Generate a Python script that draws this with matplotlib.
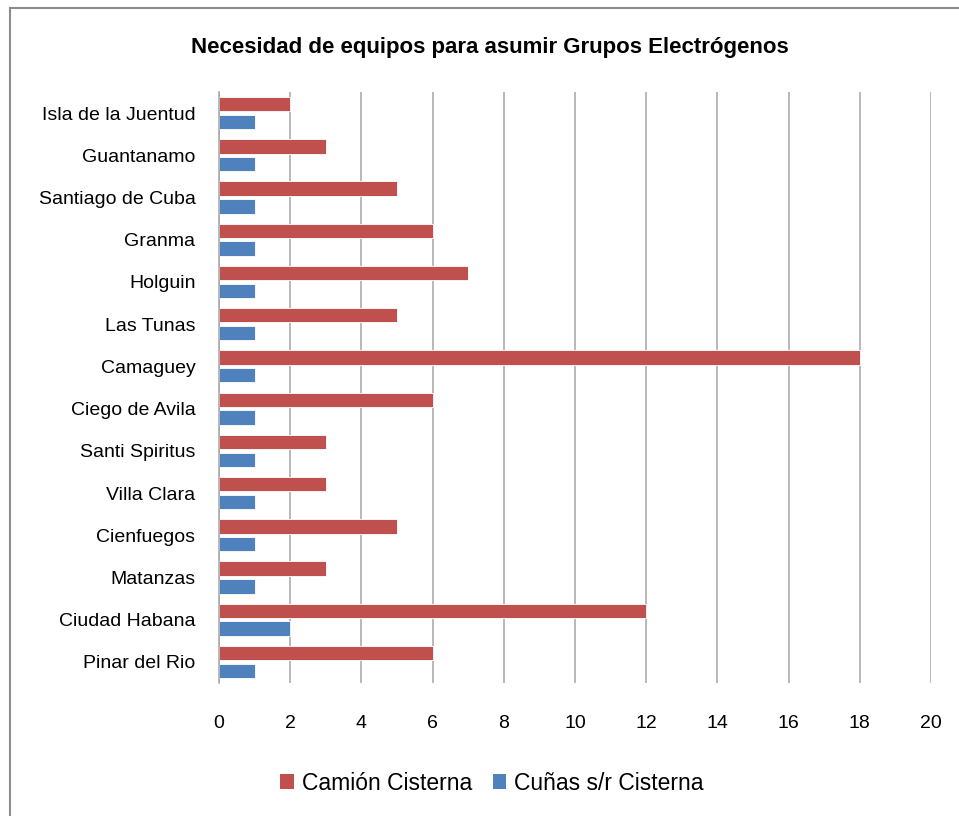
import numpy as np
import matplotlib
matplotlib.use('Agg')
import matplotlib.pyplot as plt
from matplotlib.lines import Line2D
from matplotlib.patches import Patch

plt.rcParams.update({'font.family': ['Liberation Sans', 'DejaVu Sans']})

#%% data (bottom to top, as drawn)
provincias = ['Pinar del Rio', 'Ciudad Habana', 'Matanzas', 'Cienfuegos', 'Villa Clara',
              'Santi Spiritus', 'Ciego de Avila', 'Camaguey', 'Las Tunas', 'Holguin',
              'Granma', 'Santiago de Cuba', 'Guantanamo', 'Isla de la Juentud']
camion = [6, 12, 3, 5, 3, 3, 6, 18, 5, 7, 6, 5, 3, 2]
cunas = [1, 2, 1, 1, 1, 1, 1, 1, 1, 1, 1, 1, 1, 1]
xticks = [0, 2, 4, 6, 8, 10, 12, 14, 16, 18, 20]

red = '#C0504D'
blue = '#4F81BD'
grid_c = '#A6A6A6'

#%% plot
fig = plt.figure(figsize=(9.59, 8.16), dpi=100)
ax = fig.add_axes([219/959, 1 - 683/816, 712/959, 591/816])

y = np.arange(len(provincias))
h = 0.34
ax.barh(y + 0.21, camion, height=h, color=red, edgecolor='white', linewidth=0.6, zorder=3)
ax.barh(y - 0.21, cunas, height=h, color=blue, edgecolor='white', linewidth=0.6, zorder=3)

ax.set_xlim(0, 20)
ax.set_ylim(-0.5, len(provincias) - 0.5)
ax.set_xticks(xticks)
ax.set_yticks(y)
ax.set_yticklabels(provincias)
ax.tick_params(axis='y', length=0, pad=17, labelsize=14)
ax.tick_params(axis='x', length=0, pad=23, labelsize=14)
ax.grid(axis='x', color=grid_c, linewidth=1.1, zorder=0)
for s in ['top', 'right', 'bottom']:
    ax.spines[s].set_visible(False)
ax.spines['left'].set_color(grid_c)
ax.spines['left'].set_linewidth(1.1)
ax.spines['left'].set_zorder(4)

fig.text(490/959, 1 - 47/816, 'Necesidad de equipos para asumir Grupos Electrógenos',
         ha='center', va='center', fontsize=16, fontweight='bold')

handles = [Patch(facecolor=red, label='Camión Cisterna'),
           Patch(facecolor=blue, label='Cuñas s/r Cisterna')]
fig.legend(handles=handles, loc='center', bbox_to_anchor=(492/959, 1 - 783/816), ncol=2,
           frameon=False, fontsize=16.5, handlelength=0.6, handleheight=0.6,
           handletextpad=0.35, columnspacing=0.9)

# chart border (left and top visible)
fig.add_artist(Line2D([9.5/959, 9.5/959], [0, 1 - 8/816], color='#8C8C8C', linewidth=1.5))
fig.add_artist(Line2D([9.5/959, 1], [1 - 8/816, 1 - 8/816], color='#8C8C8C', linewidth=1.5))

fig.savefig('out.png', dpi=100)
